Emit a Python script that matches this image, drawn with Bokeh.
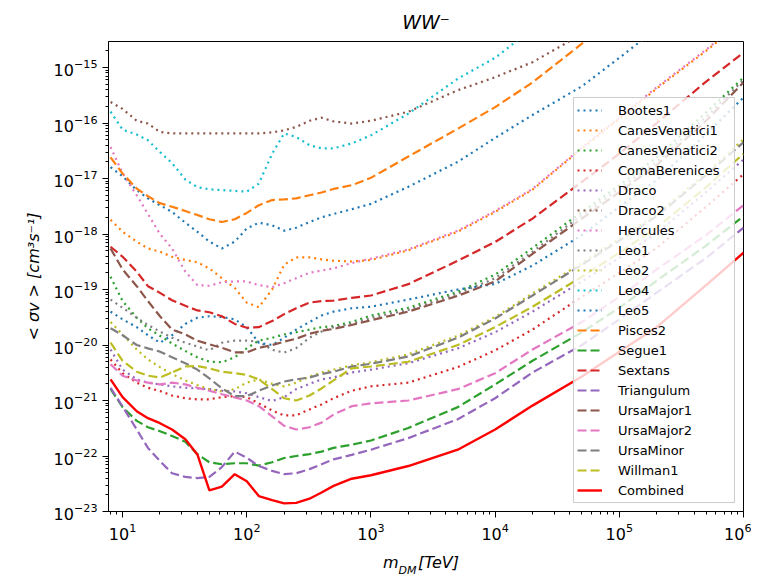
from bokeh.plotting import figure
from bokeh.models import FixedTicker, LogTickFormatter, LogAxis
from bokeh.embed import file_html
from bokeh.resources import INLINE

# dark-matter mass grid [TeV]
mass = [8, 10, 13, 16, 20, 25, 32, 40, 50, 63, 80, 100, 125, 160, 200, 250, 320, 400,
        500, 700, 1000, 2000, 5000, 1e4, 2e4, 5e4, 1e5, 2e5, 5e5, 1e6]

Bootes1 = [1.6e-17, 1.1e-17, 6.2e-18, 4.4e-18, 3.3e-18, 2.5e-18, 1.6e-18, 1.1e-18, 7.3e-19, 5.5e-19,
           7.3e-19, 1.26e-18, 1.6e-18, 1.44e-18, 1.15e-18, 1.3e-18, 1.65e-18, 2.0e-18, 2.3e-18, 2.8e-18,
           3.5e-18, 7.1e-18, 2.0e-17, 5.4e-17, 1.4e-16, 4.6e-16, 1.5e-15, 5e-15, 1.5e-14, 4e-14]
CanesVenatici1 = [1.8e-18, 1.1e-18, 7.3e-19, 5.5e-19, 4.8e-19, 3.9e-19, 3.4e-19, 3.1e-19, 2.4e-19, 1.6e-19,
                  1.07e-19, 5.8e-20, 4.8e-20, 1.0e-19, 2.8e-19, 3.8e-19, 3.8e-19, 3.5e-19, 3.3e-19, 3.2e-19,
                  3.4e-19, 5.1e-19, 1.1e-18, 2.5e-18, 6.3e-18, 3.5e-17, 1.2e-16, 4.2e-16, 2.0e-15, 7e-15]
CanesVenatici2 = [1.7e-19, 6.2e-20, 3.1e-20, 2.0e-20, 1.47e-20, 1.07e-20, 7.8e-21, 6.0e-21, 5.0e-21, 4.9e-21,
                  6.0e-21, 8.7e-21, 1.2e-20, 1.35e-20, 1.55e-20, 1.7e-20, 1.9e-20, 2.1e-20, 2.2e-20, 2.6e-20,
                  3.4e-20, 4.7e-20, 9.1e-20, 1.85e-19, 5.6e-19, 2.5e-18, 7.6e-18, 2.4e-17, 1.56e-16, 6.6e-16]
ComaBerenices = [5.5e-21, 3.1e-21, 2.1e-21, 1.7e-21, 1.48e-21, 1.23e-21, 1.1e-21, 1.05e-21, 1.05e-21, 1.15e-21,
                 1.2e-21, 1.15e-21, 8.9e-22, 6.6e-22, 5.4e-22, 5.4e-22, 6.9e-22, 8.5e-22, 1.1e-21, 1.5e-21,
                 1.8e-21, 2.1e-21, 4.0e-21, 8.0e-21, 1.9e-20, 7.4e-20, 2.0e-19, 5.6e-19, 3.1e-18, 1.2e-17]
Draco = [8.3e-21, 3.6e-21, 2.4e-21, 2.1e-21, 1.95e-21, 1.8e-21, 1.7e-21, 1.65e-21, 1.6e-21, 1.5e-21,
         1.46e-21, 1.35e-21, 1.15e-21, 9.8e-22, 1.15e-21, 1.6e-21, 2.0e-21, 2.4e-21, 2.6e-21, 3.2e-21,
         3.6e-21, 4.7e-21, 8.7e-21, 1.7e-20, 4.0e-20, 1.4e-19, 3.7e-19, 1.05e-18, 5.7e-18, 2.2e-17]
Draco2 = [2.4e-16, 1.8e-16, 1.1e-16, 9.8e-17, 6.9e-17, 6.5e-17, 6.5e-17, 6.5e-17, 6.5e-17, 6.5e-17,
          6.5e-17, 6.5e-17, 6.5e-17, 6.8e-17, 7.4e-17, 8.5e-17, 1.1e-16, 1.25e-16, 1.07e-16, 9.8e-17,
          1.1e-16, 1.6e-16, 3.9e-16, 6.7e-16, 1.25e-15, 4e-15, 9e-15, 2e-14, 5e-14, 1e-13]
Hercules = [3.7e-17, 1.25e-17, 5.0e-18, 2.3e-18, 1.0e-18, 5.5e-19, 2.1e-19, 1.2e-19, 1.17e-19, 1.35e-19,
            1.4e-19, 1.4e-19, 1.2e-19, 1.1e-19, 1.3e-19, 1.6e-19, 2.0e-19, 2.2e-19, 2.4e-19, 3.0e-19,
            3.6e-19, 5.3e-19, 1.15e-18, 2.6e-18, 6.5e-18, 3.6e-17, 1.25e-16, 4.4e-16, 2.1e-15, 7.5e-15]
Leo1 = [6.6e-20, 4.7e-20, 3.1e-20, 2.3e-20, 1.75e-20, 1.35e-20, 1.1e-20, 9.4e-21, 8.0e-21, 1.1e-20,
        1.2e-20, 1.2e-20, 1.15e-20, 8.2e-21, 7.3e-21, 8.8e-21, 1.35e-20, 1.75e-20, 2.1e-20, 2.4e-20,
        3.1e-20, 4.3e-20, 8.4e-20, 1.6e-19, 4.8e-19, 2.2e-18, 6.6e-18, 2.0e-17, 1.3e-16, 6e-16]
Leo2 = [2.6e-20, 1.55e-20, 8.3e-21, 5.5e-21, 4.0e-21, 3.0e-21, 2.3e-21, 1.9e-21, 1.6e-21, 1.45e-21,
        1.6e-21, 2.1e-21, 2.4e-21, 2.0e-21, 1.8e-21, 2.1e-21, 2.7e-21, 3.2e-21, 3.6e-21, 4.3e-21,
        4.9e-21, 6.8e-21, 1.47e-20, 3.2e-20, 8.5e-20, 3.0e-19, 8.2e-19, 2.3e-18, 1.25e-17, 5.1e-17]
Leo4 = [1.6e-16, 7.6e-17, 6.2e-17, 4.9e-17, 3.0e-17, 1.9e-17, 9.6e-18, 7.0e-18, 6.4e-18, 6.2e-18,
        6.0e-18, 5.8e-18, 8.1e-18, 2.8e-17, 6.5e-17, 5.6e-17, 4.0e-17, 3.5e-17, 3.5e-17, 4.3e-17,
        6.0e-17, 1.48e-16, 6.3e-16, 1.5e-15, 5e-15, 1.5e-14, 3.5e-14, 8e-14, 2e-13, 5e-13]
Leo5 = [4.0e-20, 2.9e-20, 2.1e-20, 1.5e-20, 1.1e-20, 1.5e-20, 2.4e-20, 3.1e-20, 3.3e-20, 3.2e-20,
        2.9e-20, 2.1e-20, 1.1e-20, 1.0e-20, 1.35e-20, 1.9e-20, 2.6e-20, 3.4e-20, 4.0e-20, 4.6e-20,
        4.9e-20, 6.6e-20, 1.0e-19, 1.26e-19, 2.7e-19, 9.6e-19, 3.1e-18, 9.4e-18, 6.3e-17, 2.9e-16]
Pisces2 = [2.4e-17, 1.23e-17, 6.6e-18, 4.8e-18, 3.6e-18, 3.1e-18, 2.6e-18, 2.2e-18, 1.85e-18, 1.65e-18,
           1.85e-18, 2.4e-18, 3.3e-18, 4.1e-18, 4.2e-18, 4.4e-18, 5.0e-18, 5.6e-18, 6.5e-18, 7.6e-18,
           1.03e-17, 2.5e-17, 7.9e-17, 1.94e-16, 5.4e-16, 2.7e-15, 8e-15, 2e-14, 6e-14, 1.5e-13]
Segue1 = [1.6e-21, 7.6e-22, 4.3e-22, 3.3e-22, 2.8e-22, 2.3e-22, 1.8e-22, 1.08e-22, 7.7e-23, 7.1e-23,
          7.4e-23, 7.4e-23, 6.7e-23, 7.7e-23, 9.2e-23, 1.0e-22, 1.08e-22, 1.2e-22, 1.4e-22, 1.6e-22,
          1.9e-22, 3.2e-22, 7.6e-22, 1.95e-21, 5.2e-21, 1.7e-20, 4.7e-20, 1.44e-19, 6.2e-19, 2.1e-18]
Sextans = [5.9e-19, 3.9e-19, 2.1e-19, 1.15e-19, 8.7e-20, 6.4e-20, 5.1e-20, 4.2e-20, 3.9e-20, 3.3e-20,
           2.4e-20, 2.05e-20, 2.1e-20, 2.7e-20, 3.6e-20, 4.6e-20, 5.8e-20, 6.2e-20, 6.3e-20, 7.1e-20,
           7.8e-20, 1.25e-19, 3.3e-19, 7.2e-19, 1.9e-18, 8.7e-18, 2.8e-17, 1.0e-16, 5.6e-16, 1.85e-15]
Triangulum = [1.7e-21, 7.8e-22, 3.0e-22, 1.4e-22, 8.1e-23, 4.9e-23, 4.2e-23, 4.0e-23, 4.2e-23, 6.3e-23,
              1.2e-22, 9.3e-23, 6.6e-23, 5.4e-23, 4.7e-23, 4.9e-23, 5.8e-23, 7.1e-23, 8.7e-23, 1.05e-22,
              1.3e-22, 2.1e-22, 4.6e-22, 1.1e-21, 3.2e-21, 1.0e-20, 2.9e-20, 8.8e-20, 3.7e-19, 1.3e-18]
UrsaMajor1 = [5.5e-19, 2.3e-19, 1.15e-19, 6.2e-20, 3.3e-20, 1.9e-20, 1.55e-20, 1.2e-20, 1.03e-20, 8.9e-21,
              7.4e-21, 7.4e-21, 8.9e-21, 1.0e-20, 1.15e-20, 1.3e-20, 1.6e-20, 1.8e-20, 1.95e-20, 2.3e-20,
              2.8e-20, 4.0e-20, 7.7e-20, 1.4e-19, 4.4e-19, 1.9e-18, 5.7e-18, 1.75e-17, 1.1e-16, 5.4e-16]
UrsaMajor2 = [4.5e-21, 2.8e-21, 2.3e-21, 2.1e-21, 1.95e-21, 2.1e-21, 1.95e-21, 1.7e-21, 1.5e-21, 1.3e-21,
              1.14e-21, 1.0e-21, 7.9e-22, 5.2e-22, 3.5e-22, 3.0e-22, 3.3e-22, 4.0e-22, 5.6e-22, 7.9e-22,
              8.9e-22, 1.0e-21, 1.6e-21, 3.1e-21, 8.3e-21, 2.6e-20, 7.4e-20, 2.3e-19, 9.6e-19, 3.3e-18]
UrsaMinor = [2.0e-20, 1.5e-20, 1.0e-20, 8.7e-21, 7.6e-21, 6.0e-21, 4.7e-21, 3.6e-21, 2.5e-21, 1.66e-21,
             1.2e-21, 1.2e-21, 1.5e-21, 1.86e-21, 2.2e-21, 2.4e-21, 2.6e-21, 3.0e-21, 3.3e-21, 4.1e-21,
             4.6e-21, 6.2e-21, 1.35e-20, 3.0e-20, 7.8e-20, 2.8e-19, 7.6e-19, 2.1e-18, 1.15e-17, 4.5e-17]
Willman1 = [1.1e-20, 5.2e-21, 3.3e-21, 2.8e-21, 2.6e-21, 3.2e-21, 4.1e-21, 4.2e-21, 3.8e-21, 3.3e-21,
            3.1e-21, 2.9e-21, 2.4e-21, 1.6e-21, 1.1e-21, 1.0e-21, 1.23e-21, 1.65e-21, 2.3e-21, 3.8e-21,
            4.1e-21, 5.0e-21, 1.0e-20, 2.1e-20, 4.9e-20, 1.7e-19, 4.6e-19, 1.3e-18, 7.0e-18, 2.8e-17]
Combined = [2.4e-21, 1.15e-21, 6.4e-22, 4.8e-22, 3.9e-22, 3.0e-22, 2.0e-22, 1.07e-22, 2.4e-23, 2.8e-23,
            4.7e-23, 3.5e-23, 1.9e-23, 1.6e-23, 1.4e-23, 1.43e-23, 1.7e-23, 2.2e-23, 2.9e-23, 3.9e-23,
            4.5e-23, 6.6e-23, 1.3e-22, 3.0e-22, 8.1e-22, 2.7e-21, 7.6e-21, 2.1e-20, 1.2e-19, 4.6e-19]

names = ["Bootes1", "CanesVenatici1", "CanesVenatici2", "ComaBerenices", "Draco", "Draco2",
         "Hercules", "Leo1", "Leo2", "Leo4", "Leo5", "Pisces2", "Segue1", "Sextans",
         "Triangulum", "UrsaMajor1", "UrsaMajor2", "UrsaMinor", "Willman1", "Combined"]
series = [Bootes1, CanesVenatici1, CanesVenatici2, ComaBerenices, Draco, Draco2,
          Hercules, Leo1, Leo2, Leo4, Leo5, Pisces2, Segue1, Sextans,
          Triangulum, UrsaMajor1, UrsaMajor2, UrsaMinor, Willman1, Combined]

tab10 = ["#1f77b4", "#ff7f0e", "#2ca02c", "#d62728", "#9467bd",
         "#8c564b", "#e377c2", "#7f7f7f", "#bcbd22", "#17becf"]

FONT = "DejaVu Sans"

p = figure(width=751, height=579, x_axis_type="log", y_axis_type="log",
           x_range=(7.7, 1e6), y_range=(1e-23, 2.95e-15),
           output_backend="svg", toolbar_location=None,
           min_border_left=108, min_border_right=8, min_border_top=41, min_border_bottom=67)

for i, (name, ys) in enumerate(zip(names, series)):
    if name == "Combined":
        p.line(mass, ys, line_color="red", line_width=2.4, legend_label=name)
    elif i < 11:
        p.line(mass, ys, line_color=tab10[i % 10], line_width=2.2, line_dash="2 4",
               legend_label=name)
    else:
        p.line(mass, ys, line_color=tab10[i % 10], line_width=2.2, line_dash="9 4",
               legend_label=name)

# title
p.title.text = "WW⁻"
p.title.align = "center"
p.title.text_font = FONT
p.title.text_font_style = "italic"
p.title.text_font_size = "19px"
p.title.text_color = "black"
p.title.standoff = 17

# axes
p.xaxis.ticker = FixedTicker(ticks=[10.0 ** k for k in range(1, 7)],
                             minor_ticks=[m * 10.0 ** k for k in range(0, 6) for m in range(2, 10)])
p.yaxis.ticker = FixedTicker(ticks=[10.0 ** k for k in range(-23, -14)],
                             minor_ticks=[m * 10.0 ** k for k in range(-24, -14) for m in range(2, 10)])
for ax in (p.xaxis[0], p.yaxis[0]):
    ax.formatter = LogTickFormatter()
    ax.major_label_text_font = FONT
    ax.major_label_text_font_size = "16px"
    ax.major_label_text_color = "black"
    ax.axis_line_color = "black"
    ax.major_tick_line_color = "black"
    ax.minor_tick_line_color = "black"
    ax.major_tick_in = 0
    ax.major_tick_out = 6
    ax.minor_tick_in = 0
    ax.minor_tick_out = 3
    ax.major_label_standoff = 5

p.yaxis.axis_label = "< σv > [cm³s⁻¹]"
p.yaxis.axis_label_text_font = FONT
p.yaxis.axis_label_text_font_style = "italic"
p.yaxis.axis_label_text_font_size = "16px"
p.yaxis.axis_label_text_color = "black"
p.yaxis.axis_label_standoff = 8

# x-axis title "m_DM[TeV]": main text row and lowered subscript row
xlabel_main = {1446: "m", 3500: "[TeV]"}
xlabel_sub = {1971: "DM"}


def text_row(entries, size, standoff):
    ax = LogAxis(ticker=FixedTicker(ticks=list(entries.keys()), minor_ticks=[]),
                 major_label_overrides=entries)
    ax.axis_line_color = None
    ax.major_tick_line_color = None
    ax.minor_tick_line_color = None
    ax.major_tick_in = 0
    ax.major_tick_out = 0
    ax.minor_tick_in = 0
    ax.minor_tick_out = 0
    ax.major_label_standoff = standoff
    ax.major_label_text_font = FONT
    ax.major_label_text_font_style = "italic"
    ax.major_label_text_font_size = size
    ax.major_label_text_color = "black"
    return ax


p.add_layout(text_row(xlabel_main, "16px", 10), "below")
p.add_layout(text_row(xlabel_sub, "11px", -11), "below")

p.xgrid.grid_line_color = None
p.ygrid.grid_line_color = None
p.outline_line_color = "black"
p.outline_line_width = 1
p.outline_line_alpha = 1
p.background_fill_color = "white"

lg = p.legend[0]
lg.location = "bottom_right"
lg.margin = 8
lg.padding = 3
lg.spacing = 2
lg.glyph_width = 25
lg.glyph_height = 18
lg.label_height = 18
lg.label_width = 113
lg.label_standoff = 16
lg.label_text_font = FONT
lg.label_text_font_size = "13px"
lg.label_text_color = "black"
lg.background_fill_alpha = 0.8
lg.border_line_color = "#cccccc"
lg.border_line_alpha = 1

open("out.html", "w").write(file_html(p, INLINE))
